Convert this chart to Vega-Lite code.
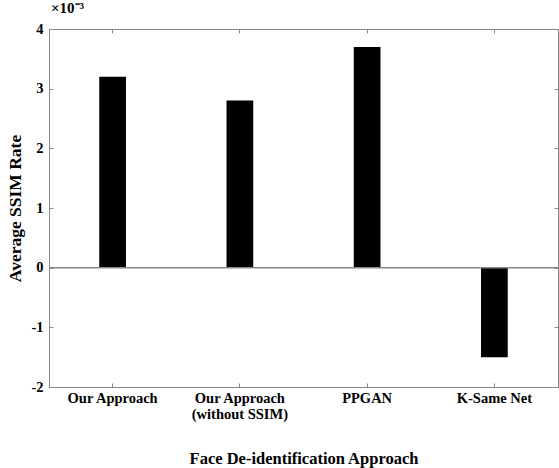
{
  "$schema": "https://vega.github.io/schema/vega-lite/v6.json",
  "width": 509,
  "height": 358,
  "autosize": {"type": "none"},
  "padding": {"left": 49, "top": 29, "right": 1, "bottom": 81},
  "background": "white",
  "title": {
    "text": "×10⁻³",
    "anchor": "start",
    "frame": "group",
    "font": "Liberation Serif",
    "fontSize": 15,
    "fontWeight": "bold",
    "color": "black",
    "offset": 5,
    "dx": 2
  },
  "config": {
    "view": {"stroke": "#888888", "strokeWidth": 1},
    "axis": {
      "domainColor": "#888888",
      "tickColor": "#888888",
      "labelFont": "Liberation Serif",
      "labelFontWeight": "bold",
      "labelFontSize": 14.5,
      "labelColor": "black",
      "titleFont": "Liberation Serif",
      "titleFontWeight": "bold",
      "titleFontSize": 16.5,
      "titleColor": "black",
      "grid": false
    }
  },
  "data": {
    "values": [
      {"approach": "Our Approach", "ssim": 0.0032},
      {"approach": "Our Approach (without SSIM)", "ssim": 0.0028},
      {"approach": "PPGAN", "ssim": 0.0037},
      {"approach": "K-Same Net", "ssim": -0.0015}
    ]
  },
  "layer": [
    {
      "mark": {"type": "bar", "color": "black", "width": {"band": 0.21}},
      "encoding": {
        "x": {
          "field": "approach",
          "type": "nominal",
          "sort": null,
          "scale": {"paddingInner": 0, "paddingOuter": 0},
          "axis": {
            "orient": "bottom",
            "labelAngle": 0,
            "tickSize": -4,
            "labelPadding": 8,
            "labelLineHeight": 16,
            "labelExpr": "datum.value == 'Our Approach (without SSIM)' ? ['Our Approach', '(without SSIM)'] : datum.value",
            "title": "Face De-identification Approach",
            "titlePadding": 30
          }
        },
        "y": {
          "field": "ssim",
          "type": "quantitative",
          "scale": {"domain": [-0.002, 0.004], "nice": false, "zero": false},
          "axis": {
            "orient": "left",
            "values": [-0.002, -0.001, 0, 0.001, 0.002, 0.003, 0.004],
            "labelExpr": "'' + round(datum.value * 1000)",
            "tickSize": -4,
            "labelPadding": 10,
            "title": "Average SSIM Rate",
            "titleFontSize": 17.5,
            "titlePadding": 6
          }
        }
      }
    },
    {
      "mark": {"type": "rule", "color": "#888888", "strokeWidth": 1},
      "encoding": {
        "y": {
          "datum": 0,
          "type": "quantitative",
          "axis": {
            "orient": "right",
            "values": [-0.002, -0.001, 0, 0.001, 0.002, 0.003, 0.004],
            "labels": false,
            "tickSize": -4,
            "title": null
          }
        }
      }
    },
    {
      "mark": {"type": "bar", "opacity": 0},
      "encoding": {
        "x": {
          "field": "approach",
          "type": "nominal",
          "sort": null,
          "axis": {"orient": "top", "labels": false, "tickSize": -4, "title": null}
        },
        "y": {"field": "ssim", "type": "quantitative", "axis": null}
      }
    }
  ],
  "resolve": {"axis": {"x": "independent", "y": "independent"}}
}
